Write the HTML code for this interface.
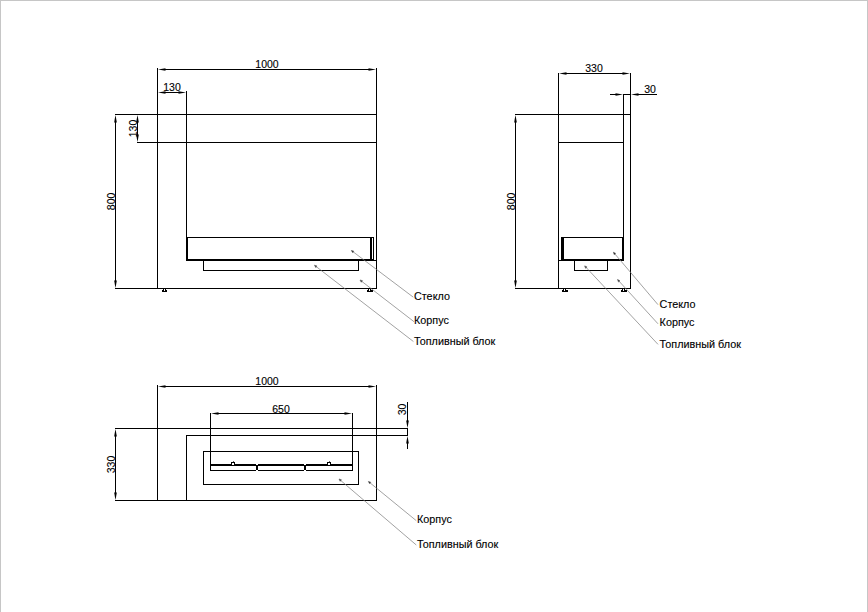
<!DOCTYPE html>
<html><head><meta charset="utf-8"><style>
html,body{margin:0;padding:0;background:#fff;}
body{width:868px;height:612px;overflow:hidden;position:relative;}
svg{position:absolute;left:0;top:0;}
text{font-family:"Liberation Sans",sans-serif;fill:#000;stroke:#000;stroke-width:0.12px;}
.d{font-size:10.5px;}
.l{font-size:10.8px;}
</style></head><body>
<svg width="868" height="612" viewBox="0 0 868 612">
<rect x="0" y="0" width="868" height="612" fill="#fff"/>
<g fill="#c6c6c6" shape-rendering="crispEdges"><rect x="0" y="0" width="868" height="1"/><rect x="0" y="0" width="1" height="612"/><rect x="867" y="0" width="1" height="612"/></g>
<g fill="#000" shape-rendering="crispEdges"><rect x="162" y="69" width="210" height="1"/><rect x="157" y="68" width="1" height="221"/><rect x="376" y="68" width="1" height="221"/><rect x="162" y="92" width="20" height="1"/><rect x="186" y="91" width="1" height="170"/><rect x="115" y="114" width="262" height="1"/><rect x="137" y="142" width="240" height="1"/><rect x="137" y="119" width="1" height="19"/><rect x="115" y="119" width="1" height="165"/><rect x="115" y="288" width="262" height="1"/><rect x="186" y="237" width="188" height="1"/><rect x="186" y="259" width="188" height="2"/><rect x="373" y="260" width="4" height="1"/><rect x="187" y="237" width="1" height="24"/><rect x="373" y="237" width="1" height="24"/><rect x="370" y="237" width="2" height="24"/><rect x="203" y="261" width="1" height="10"/><rect x="358" y="261" width="1" height="10"/><rect x="203" y="270" width="156" height="1"/><rect x="162" y="290" width="5" height="2"/><rect x="163" y="289" width="1" height="1"/><rect x="165" y="289" width="1" height="1"/><rect x="367" y="290" width="6" height="2"/><rect x="368" y="289" width="1" height="1"/><rect x="370" y="289" width="1" height="1"/><rect x="563" y="73" width="63" height="1"/><rect x="558" y="73" width="1" height="216"/><rect x="630" y="73" width="1" height="216"/><rect x="610" y="94" width="9" height="1"/><rect x="623" y="94" width="8" height="1"/><rect x="635" y="94" width="22" height="1"/><rect x="623" y="94" width="1" height="167"/><rect x="515" y="114" width="116" height="1"/><rect x="558" y="142" width="66" height="1"/><rect x="515" y="119" width="1" height="165"/><rect x="515" y="288" width="116" height="1"/><rect x="561" y="237" width="63" height="1"/><rect x="561" y="259" width="63" height="2"/><rect x="558" y="260" width="4" height="1"/><rect x="561" y="237" width="3" height="24"/><rect x="622" y="237" width="2" height="24"/><rect x="574" y="261" width="1" height="10"/><rect x="607" y="261" width="1" height="10"/><rect x="574" y="270" width="34" height="1"/><rect x="562" y="290" width="6" height="2"/><rect x="563" y="289" width="1" height="1"/><rect x="565" y="289" width="1" height="1"/><rect x="621" y="290" width="6" height="2"/><rect x="622" y="289" width="1" height="1"/><rect x="624" y="289" width="1" height="1"/><rect x="162" y="386" width="210" height="1"/><rect x="157" y="385" width="1" height="116"/><rect x="376" y="385" width="1" height="116"/><rect x="215" y="413" width="133" height="1"/><rect x="210" y="413" width="1" height="58"/><rect x="352" y="413" width="1" height="58"/><rect x="115" y="428" width="293" height="1"/><rect x="186" y="435" width="222" height="1"/><rect x="186" y="435" width="1" height="66"/><rect x="115" y="500" width="262" height="1"/><rect x="115" y="433" width="1" height="63"/><rect x="407" y="402" width="1" height="22"/><rect x="407" y="428" width="1" height="8"/><rect x="407" y="440" width="1" height="9"/><rect x="203" y="451" width="156" height="1"/><rect x="203" y="484" width="156" height="1"/><rect x="203" y="451" width="1" height="34"/><rect x="358" y="451" width="1" height="34"/><rect x="210" y="464" width="143" height="2"/><rect x="210" y="470" width="143" height="1"/><rect x="256" y="465" width="2" height="6"/><rect x="304" y="465" width="2" height="6"/></g>
<g fill="#000"><polygon points="158,69.5 165.5,68.15 165.5,70.85"/><polygon points="376,69.5 368.5,70.85 368.5,68.15"/><polygon points="158,92.5 165.5,91.15 165.5,93.85"/><polygon points="186,92.5 178.5,93.85 178.5,91.15"/><polygon points="137.5,115 138.85,122.5 136.15,122.5"/><polygon points="137.5,142 136.15,134.5 138.85,134.5"/><polygon points="115.5,115 116.85,122.5 114.15,122.5"/><polygon points="115.5,288 114.15,280.5 116.85,280.5"/><polygon points="559,73.5 566.5,72.15 566.5,74.85"/><polygon points="630,73.5 622.5,74.85 622.5,72.15"/><polygon points="623,94.5 615.5,95.85 615.5,93.15"/><polygon points="631,94.5 638.5,93.15 638.5,95.85"/><polygon points="515.5,115 516.85,122.5 514.15,122.5"/><polygon points="515.5,288 514.15,280.5 516.85,280.5"/><polygon points="158,386.5 165.5,385.15 165.5,387.85"/><polygon points="376,386.5 368.5,387.85 368.5,385.15"/><polygon points="211,413.5 218.5,412.15 218.5,414.85"/><polygon points="352,413.5 344.5,414.85 344.5,412.15"/><polygon points="115.5,429 116.85,436.5 114.15,436.5"/><polygon points="115.5,500 114.15,492.5 116.85,492.5"/><polygon points="407.5,428 406.15,420.5 408.85,420.5"/><polygon points="407.5,436 408.85,443.5 406.15,443.5"/></g>
<g stroke="#7a7a7a" stroke-width="0.7" fill="#000"><line x1="351.4" y1="250.5" x2="413.3" y2="297.2"/><polygon points="351.4,250.5 353.91817402743186,251.14714725338794 352.7136392831825,252.7437361328106"/><line x1="360" y1="280" x2="414" y2="321.7"/><polygon points="360,280 362.51074526115264,280.6753948723521 361.28835089582793,282.25835160442733"/><line x1="314.5" y1="265.3" x2="413.4" y2="341.5"/><polygon points="314.5,265.3 317.0114835210825,265.97264442562994 315.79082371558127,267.55693910757316"/><line x1="613.4" y1="252.2" x2="658" y2="304.7"/><polygon points="613.4,252.2 615.7159688679459,253.38164639495295 614.1917321176994,254.67652180563852"/><line x1="617.6" y1="279.6" x2="658" y2="323.8"/><polygon points="617.6,279.6 619.9573204200362,280.6968320004816 618.4810727214588,282.0461624761045"/><line x1="584.7" y1="265.9" x2="658" y2="344.4"/><polygon points="584.7,265.9 587.0688622840764,266.9716769471629 585.6070614091452,268.33664515267185"/><line x1="368.4" y1="481.5" x2="416.3" y2="520.7"/><polygon points="368.4,481.5 370.89065051182826,482.24609652721995 369.62399898012524,483.7938671488672"/><line x1="339" y1="479" x2="416.3" y2="545"/><polygon points="339,479 341.47454438593996,479.79789102138886 340.1758808246165,481.3189015257874"/></g>
<rect x="164" y="290" width="1" height="1" fill="#fff"/><rect x="369" y="290" width="1" height="1" fill="#fff"/><rect x="564" y="290" width="1" height="1" fill="#fff"/><rect x="623" y="290" width="1" height="1" fill="#fff"/><rect x="256" y="464" width="2" height="1" fill="#fff"/><rect x="256" y="470" width="2" height="1" fill="#fff"/><rect x="304" y="464" width="2" height="1" fill="#fff"/><rect x="304" y="470" width="2" height="1" fill="#fff"/><rect x="231" y="462" width="4" height="4" fill="#000"/><rect x="232" y="463" width="2" height="2" fill="#fff"/><rect x="233" y="461" width="1" height="1" fill="#666"/><rect x="327" y="462" width="4" height="4" fill="#000"/><rect x="328" y="463" width="2" height="2" fill="#fff"/><rect x="329" y="461" width="1" height="1" fill="#666"/>
<g><text class="d" x="267" y="68" text-anchor="middle">1000</text><text class="d" x="172" y="91" text-anchor="middle">130</text><text class="d" transform="translate(136.7,128.5) rotate(-90)" text-anchor="middle">130</text><text class="d" transform="translate(114.6,201.4) rotate(-90)" text-anchor="middle">800</text><text class="l" x="414" y="300" text-anchor="start">Стекло</text><text class="l" x="414" y="324" text-anchor="start">Корпус</text><text class="l" x="414" y="344.6" text-anchor="start">Топливный блок</text><text class="d" x="594" y="72" text-anchor="middle">330</text><text class="d" x="650" y="93" text-anchor="middle">30</text><text class="d" transform="translate(514.6,201.4) rotate(-90)" text-anchor="middle">800</text><text class="l" x="659.6" y="308.2" text-anchor="start">Стекло</text><text class="l" x="659.6" y="326.2" text-anchor="start">Корпус</text><text class="l" x="659.6" y="348.2" text-anchor="start">Топливный блок</text><text class="d" x="267" y="385" text-anchor="middle">1000</text><text class="d" x="281" y="412.5" text-anchor="middle">650</text><text class="d" transform="translate(114.6,464.5) rotate(-90)" text-anchor="middle">330</text><text class="d" transform="translate(406.2,409.4) rotate(-90)" text-anchor="middle">30</text><text class="l" x="417" y="522.8" text-anchor="start">Корпус</text><text class="l" x="417" y="547.5" text-anchor="start">Топливный блок</text></g>
</svg>
</body></html>
